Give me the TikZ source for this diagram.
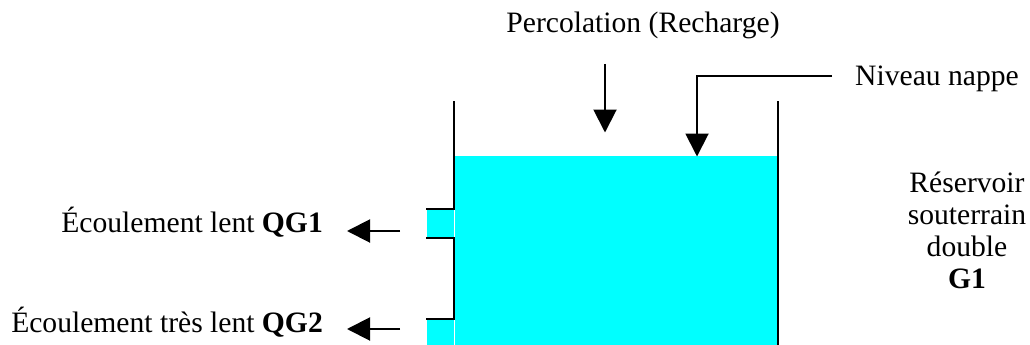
\documentclass[tikz,border=0pt]{standalone}
\usepackage{fontspec}
\setmainfont{Liberation Serif}
\usetikzlibrary{arrows.meta}
\definecolor{water}{RGB}{0,255,255}
\tikzset{
  wall/.style={line width=2pt, line join=miter, line cap=rect},
  flow/.style={line width=2pt, -{Triangle[length=23pt,width=23pt]}},
  lbl/.style={inner sep=0pt, font=\fontsize{29.6}{32}\selectfont}
}
\begin{document}
\begin{tikzpicture}[x=1pt,y=-1pt]
\useasboundingbox (0,0) rectangle (1030,345);
% water
\fill[water] (454.6,156) rectangle (777,345);
\fill[water] (427,209) rectangle (453.6,237.5);
\fill[water] (427,319) rectangle (453.6,345);
% walls
\draw[wall] (454,102) -- (454,209) -- (427,209);
\draw[wall] (427,238) -- (454,238) -- (454,319) -- (427,319);
\draw[wall] (778,102) -- (778,345);
% labels
\node[lbl, anchor=base] (perc) at (643,33) {Percolation (Recharge)};
\node[lbl, anchor=base west] (niv) at (855,85) {Niveau nappe};
\node[lbl, anchor=base east] (qg1) at (323,232) {Écoulement lent \textbf{QG1}};
\node[lbl, anchor=base east] (qg2) at (323,332) {Écoulement très lent \textbf{QG2}};
\node[lbl, anchor=base, align=center] (res) at (967,288) {Réservoir\\souterrain\\double\\\textbf{G1}};
% connectors
\coordinate (percA) at (605,64);
\coordinate (percB) at (605,132.5);
\coordinate (nivA) at (832,76);
\coordinate (nivK) at (697,76);
\coordinate (nivB) at (697,156.5);
\coordinate (q1A) at (400,231);
\coordinate (q1B) at (347,231);
\coordinate (q2A) at (400,329);
\coordinate (q2B) at (347,329);
\draw[flow] (percA) -- (percB);
\draw[flow, line join=miter] (nivA) -- (nivK) -- (nivB);
\draw[flow] (q1A) -- (q1B);
\draw[flow] (q2A) -- (q2B);
\end{tikzpicture}
\end{document}
